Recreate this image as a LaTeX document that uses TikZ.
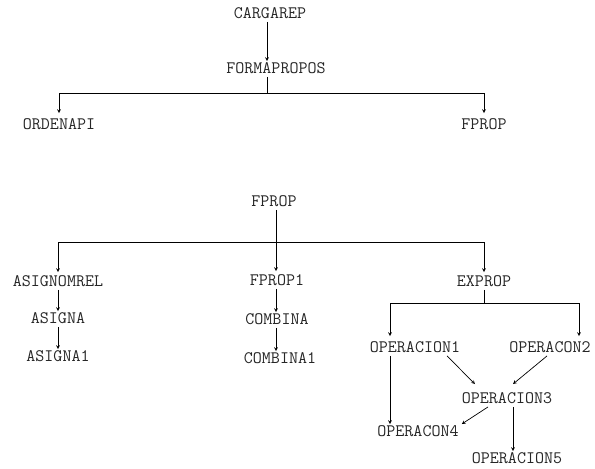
\documentclass[tikz,border=0pt]{standalone}
\usepackage{fontspec}
\usetikzlibrary{arrows}

\begin{document}
\begin{tikzpicture}[
    x=1pt, y=-1pt,
    lbl/.style={font=\ttfamily\fontsize{17.5}{20}\selectfont, text=black!85, inner sep=3pt, text height=9.5pt, text depth=0pt},
    arrow/.style={->, >=stealth, line width=0.7pt},
    link/.style={line width=0.7pt}
]
    \useasboundingbox (0,0) rectangle (595,469);

    % Upper tree
    \node[lbl] (cargarep) at (270,14) {CARGAREP};
    \node[lbl] (formapropos) at (276,69) {FORMAPROPOS};
    \node[lbl] (ordenapi) at (59,125) {ORDENAPI};
    \node[lbl] (fpropA) at (484,125) {FPROP};
    \coordinate (b1) at (267,93);

    \draw[arrow] (cargarep.south -| b1) -- (formapropos.north -| b1);
    \draw[link] (formapropos.south -| b1) -- (b1);
    \draw[arrow] (b1) -| ([yshift=4pt]ordenapi.north);
    \draw[arrow] (b1) -| ([yshift=4pt]fpropA.north);

    % Lower tree
    \node[lbl] (fpropB) at (274,202) {FPROP};
    \node[lbl] (asignomrel) at (58,282) {ASIGNOMREL};
    \node[lbl] (asigna) at (58,319) {ASIGNA};
    \node[lbl] (asigna1) at (58,357) {ASIGNA1};
    \node[lbl] (fprop1) at (277,281) {FPROP1};
    \node[lbl] (combina) at (277,320) {COMBINA};
    \node[lbl] (combina1) at (280,359) {COMBINA1};
    \node[lbl] (exprop) at (484,282) {EXPROP};
    \coordinate (b2) at (276,242);

    \draw[arrow] (fpropB.south -| b2) -- ([yshift=2pt]fprop1.north -| b2);
    \draw[arrow] (b2) -| ([yshift=2pt]asignomrel.north);
    \draw[arrow] (b2) -| ([yshift=2pt]exprop.north);
    \draw[arrow] (asignomrel) -- (asigna);
    \draw[arrow] (asigna) -- (asigna1);
    \draw[arrow] (fprop1.south -| b2) -- (combina.north -| b2);
    \draw[arrow] (combina.south -| b2) -- (combina1.north -| b2);

    % Operations under EXPROP
    \node[lbl] (operacion1) at (415,348) {OPERACION1};
    \node[lbl] (operacon2) at (550,348) {OPERACON2};
    \node[lbl] (operacion3) at (507,399) {OPERACION3};
    \node[lbl] (operacon4) at (418,432) {OPERACON4};
    \node[lbl, inner sep=1pt] (operacion5) at (517,459) {OPERACION5};
    \coordinate (b3) at (484,303);

    \draw[link] (exprop) -- (b3);
    \draw[arrow] (b3) -| ([xshift=-25pt,yshift=4pt]operacion1.north);
    \draw[arrow] (b3) -| ([xshift=29pt,yshift=4pt]operacon2.north);
    \draw[arrow] ([xshift=-25pt]operacion1.south) -- ([xshift=-25pt]operacion1.south |- operacon4.north);
    \draw[arrow] ([xshift=32pt]operacion1.south) -- ([xshift=-32pt,yshift=7pt]operacion3.north);
    \draw[arrow] ([xshift=-3pt]operacon2.south) -- ([xshift=6pt,yshift=7pt]operacion3.north);
    \draw[arrow] ([xshift=-19pt]operacion3.south) -- (operacon4.north east);
    \draw[arrow] ([xshift=6pt]operacion3.south) -- ([xshift=6pt,yshift=2pt]operacion3.south |- operacion5.north);
\end{tikzpicture}
\end{document}
